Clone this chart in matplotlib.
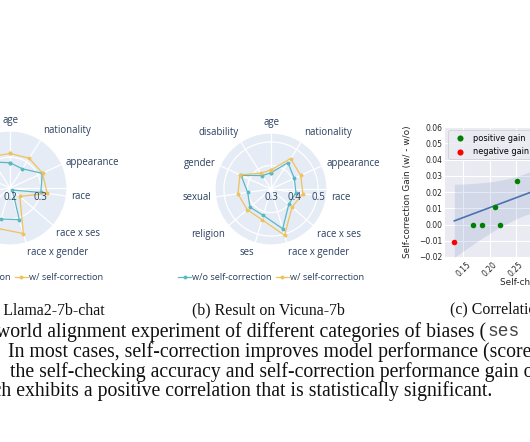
import numpy as np
import matplotlib
matplotlib.use('Agg')
import matplotlib.pyplot as plt

# ---------------- data ----------------
categories = ['age', 'nationality', 'appearance', 'race', 'race x ses', 'race x gender',
              'ses', 'religion', 'sexual', 'gender', 'disability']
llama_wo = [0.282, 0.274, 0.315, 0.301, 0.210, 0.307, 0.305, 0.300, 0.280, 0.290, 0.300]
llama_w = [0.312, 0.315, 0.316, 0.322, 0.242, 0.354, 0.337, 0.320, 0.300, 0.310, 0.320]
vicuna_wo = [0.369, 0.433, 0.409, 0.407, 0.400, 0.476, 0.417, 0.418, 0.400, 0.440, 0.368]
vicuna_w = [0.381, 0.454, 0.439, 0.437, 0.418, 0.505, 0.436, 0.434, 0.442, 0.445, 0.380]
llama_rticks = [0.2, 0.3]
vicuna_rticks = [0.3, 0.4, 0.5]
series_labels = ['w/o self-correction', 'w/ self-correction']

# visible points first; the last five lie beyond the cropped right edge
check_acc = [0.1328, 0.1691, 0.1863, 0.2105, 0.2206, 0.2525, 0.29, 0.31, 0.34, 0.40, 0.45]
gain = [-0.011, 0.0, 0.0, 0.011, 0.0, 0.027, 0.053, 0.048, 0.040, 0.025, 0.013]
yticks_c = [-0.02, -0.01, 0.00, 0.01, 0.02, 0.03, 0.04, 0.05, 0.06]
xticks_c = [0.15, 0.20, 0.25, 0.30, 0.35, 0.40]
T95 = 2.262  # two-sided 95% t critical value, df = n - 2 = 9

body_lines = [
    "world alignment experiment of different categories of biases (",
    "In most cases, self-correction improves model performance (score",
    "the self-checking accuracy and self-correction performance gain of",
    "which exhibits a positive correlation that is statistically significant.",
]

# ---------------- figure ----------------
W, H = 530, 442
fig = plt.figure(figsize=(W / 100, H / 100), dpi=100)
fig.patch.set_facecolor('white')
renderer = fig.canvas.get_renderer()

TEAL = '#5ab8c2'
YELLOW = '#f0c25c'
PLOTLY_TXT = '#2a3f5f'
PFONT = ['Open Sans', 'DejaVu Sans']


def fx(px):
    return px / W


def fy(py):
    return 1 - py / H


def text_width(s, **kw):
    t = fig.text(0, 0, s, **kw)
    w = t.get_window_extent(renderer).width
    t.remove()
    return w


def radar(cx, cy, rad, wo, w, rmin, rmax, rticks):
    ax = fig.add_axes([fx(cx - rad), fy(cy + rad), 2 * rad / W, 2 * rad / H], projection='polar')
    ax.set_theta_offset(np.pi / 2)
    ax.set_theta_direction(-1)
    n = len(categories)
    ang = np.arange(n) * 2 * np.pi / n
    ax.set_facecolor('#E5ECF6')
    ax.set_ylim(rmin, rmax)
    ax.set_xticks(ang)
    ax.set_xticklabels([])
    ax.set_yticks(rticks)
    ax.set_yticklabels([])
    ax.tick_params(length=0)
    ax.grid(color='white', lw=0.9)
    ax.spines['polar'].set_color('white')
    ax.spines['polar'].set_linewidth(0.9)
    ax.plot([np.pi / 2, np.pi / 2], [rmin, rmax], color='white', lw=0.9, zorder=1)
    a = np.append(ang, ang[0])
    l1, = ax.plot(a, np.append(wo, wo[0]), color=TEAL, lw=0.9, marker='o', ms=1.8,
                  label=series_labels[0], zorder=3)
    l2, = ax.plot(a, np.append(w, w[0]), color=YELLOW, lw=0.9, marker='o', ms=1.8,
                  label=series_labels[1], zorder=3)
    for th, lab in zip(ang, categories):
        phi = np.pi / 2 - th
        c, s = np.cos(phi), np.sin(phi)
        ha = 'left' if c > 0.1 else ('right' if c < -0.1 else 'center')
        va = 'bottom' if s > 0.5 else ('top' if s < -0.5 else 'center')
        ax.annotate(lab, xy=(th, rmax), xytext=(4.5 * c, 4.5 * s), textcoords='offset pixels',
                    ha=ha, va=va, fontsize=6.9, color=PLOTLY_TXT, family=PFONT,
                    annotation_clip=False)
    for t in rticks:
        ax.annotate(f'{t:.1f}', xy=(np.pi / 2, t), xytext=(0, -9), textcoords='offset pixels',
                    ha='center', va='center', fontsize=7.0, color=PLOTLY_TXT, family=PFONT,
                    annotation_clip=False)
    leg = fig.legend(handles=[l1, l2], loc='center', bbox_to_anchor=(fx(cx), fy(278)),
                     ncol=2, frameon=False, fontsize=6.6, handlelength=1.4,
                     handletextpad=0.1, columnspacing=0.5, borderpad=0)
    for t in leg.get_texts():
        t.set_color(PLOTLY_TXT)
        t.set_family(PFONT)
    return ax


radar(10, 188, 57, llama_wo, llama_w, 0.2, 0.385, llama_rticks)
radar(271, 189, 56, vicuna_wo, vicuna_w, 0.3, 0.538, vicuna_rticks)

# ---------------- scatter / regression ----------------
ax_l, ax_r, ax_t, ax_b = 445, 620, 127, 257
ax3 = fig.add_axes([fx(ax_l), fy(ax_b), (ax_r - ax_l) / W, (ax_b - ax_t) / H])
ax3.set_facecolor('#EAEAF2')
for sp in ax3.spines.values():
    sp.set_visible(False)
xa = np.array(check_acc)
ya = np.array(gain)
n = len(xa)
xm, ym = xa.mean(), ya.mean()
sxx = np.sum((xa - xm) ** 2)
slope = np.sum((xa - xm) * (ya - ym)) / sxx
icpt = ym - slope * xm
resid = ya - (icpt + slope * xa)
s_err = np.sqrt(np.sum(resid ** 2) / (n - 2))
xs = np.linspace(xa.min(), xa.max(), 200)
fit = icpt + slope * xs
hw = T95 * s_err * np.sqrt(1 / n + (xs - xm) ** 2 / sxx)
ax3.fill_between(xs, fit - hw, fit + hw, color='#4c72b0', alpha=0.15, linewidth=0, zorder=2)
ax3.plot(xs, fit, color='#4c72b0', lw=1.2, zorder=3)
pos = ya >= 0
ax3.scatter(xa[pos], ya[pos], s=16, color='green', label='positive gain', zorder=4, linewidths=0)
ax3.scatter(xa[~pos], ya[~pos], s=16, color='red', label='negative gain', zorder=4, linewidths=0)
ax3.set_xlim(0.115, 0.115 + (ax_r - ax_l) / 524)
ax3.set_ylim(-0.02, 0.06)
ax3.set_yticks(yticks_c)
ax3.set_yticklabels([f'{v:.2f}'.replace('-', '\u2212') for v in yticks_c])
ax3.set_xticks(xticks_c)
ax3.set_xticklabels([f'{v:.2f}' for v in xticks_c], rotation=45)
ax3.tick_params(length=0, labelsize=5.5, labelcolor='#262626', pad=2)
ax3.grid(color='white', lw=0.8)
ax3.set_axisbelow(True)
ax3.set_ylabel('Self-correction Gain (w/ - w/o)', fontsize=6.4, color='#262626')
ax3.yaxis.set_label_coords((411.7 - ax_l) / (ax_r - ax_l), 0.5)
ax3.set_xlabel('Self-checking Accuracy', fontsize=6.4, color='#262626')
xl = ax3.xaxis.get_label()
xl.set_ha('left')
xl.set_va('center')
ax3.xaxis.set_label_coords((500 - ax_l) / (ax_r - ax_l), (ax_b - 282.7) / (ax_b - ax_t))
lg = ax3.legend(loc='upper left', fontsize=5.9, frameon=True, borderaxespad=0.4,
                handletextpad=0.6, markerscale=1.1)
lg.get_frame().set_facecolor('#EAEAF2')
lg.get_frame().set_edgecolor('#cccccc')
lg.get_frame().set_linewidth(0.6)

# ---------------- captions ----------------
SERIF = 'Liberation Serif'
cap_size = 10 * 153 / text_width('(b) Result on Vicuna-7b', family=SERIF, size=10)
fig.text(fx(105), fy(310), '(a) Result on Llama2-7b-chat', ha='right', va='center',
         family=SERIF, size=cap_size, color='#111111')
fig.text(fx(268), fy(310), '(b) Result on Vicuna-7b', ha='center', va='center',
         family=SERIF, size=cap_size, color='#111111')
fig.text(fx(450), fy(310), '(c) Correlation between self-checking accuracy and gain',
         ha='left', va='center', family=SERIF, size=cap_size, color='#111111')

# ---------------- body text ----------------
body_size = 10 * 492 / text_width('h exhibits a positive correlation that is statistically significant.',
                                   family=SERIF, size=10)
base_y = [336.5, 356.5, 376.5, 396]
x_starts = [-4, 8, 10, 1]
for i, (s, yb, x0) in enumerate(zip(body_lines, base_y, x_starts)):
    if i == 3:
        x0 = x0 - text_width('whic', family=SERIF, size=body_size)
    t = fig.text(fx(x0), fy(yb), s, ha='left', va='baseline', family=SERIF,
                 size=body_size, color='#111111')
    if i == 0:
        w0 = t.get_window_extent(renderer).width
        fig.text(fx(x0 + w0 + 1), fy(yb), 'ses', ha='left', va='baseline',
                 family='Liberation Mono', size=body_size * 0.9, color='#444444')
        fig.text(fx(x0 + w0 + 1 + text_width('ses ', family='Liberation Mono', size=body_size * 0.9)),
                 fy(yb), 'is short for socioeconomic status)', ha='left', va='baseline',
                 family=SERIF, size=body_size, color='#111111')

fig.savefig('out.png', dpi=100)
